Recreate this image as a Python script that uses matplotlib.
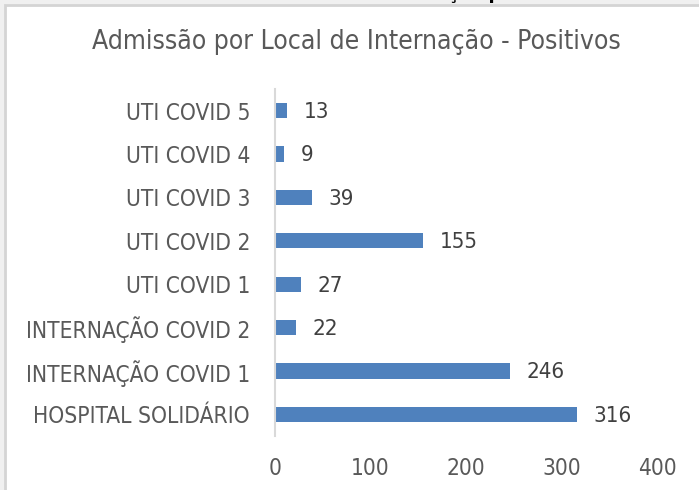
import matplotlib
matplotlib.use('Agg')
import matplotlib.pyplot as plt
from matplotlib.patches import Rectangle

# data
locais = ['HOSPITAL SOLIDÁRIO', 'INTERNAÇÃO COVID 1', 'INTERNAÇÃO COVID 2',
          'UTI COVID 1', 'UTI COVID 2', 'UTI COVID 3', 'UTI COVID 4', 'UTI COVID 5']
positivos = [316, 246, 22, 27, 155, 39, 9, 13]
xticks = [0, 100, 200, 300, 400]

plt.rcParams['font.family'] = ['DejaVu Sans']
plt.rcParams['font.stretch'] = 'condensed'

W, H = 699, 490
fig = plt.figure(figsize=(W / 100, H / 100), dpi=100)
fig.patch.set_facecolor('#F0F0F0')

# white chart frame
frame = Rectangle((5 / W, -0.1), 1.2, 1 - 5 / H + 0.1, transform=fig.transFigure,
                  facecolor='white', edgecolor='#D4D4D4', linewidth=2, zorder=-5)
fig.patches.append(frame)

# cut-off text from above the chart
fig.text(448 / W, 1 + 1.5 / H, 'ção p', fontsize=14, fontweight='bold', color='black',
         ha='left', va='baseline')

ax = fig.add_axes([275 / W, 1 - 436 / H, (657 - 275) / W, (436 - 89) / H])
ax.set_facecolor('none')

y = range(len(locais))
bars = ax.barh(y, positivos, height=0.35, color='#4F81BD')
for b, v in zip(bars, positivos):
    ax.annotate(str(v), (b.get_width(), b.get_y() + b.get_height() / 2),
                xytext=(12, -1), textcoords='offset points', va='center', ha='left',
                fontsize=16, color='#404040')

ax.set_xlim(0, 400)
ax.set_ylim(-0.5, len(locais) - 0.5)
ax.set_xticks(xticks)
ax.set_yticks(list(y))
ax.set_yticklabels(locais)
ax.tick_params(axis='y', length=0, pad=18, labelsize=16.3, labelcolor='#595959')
ax.tick_params(axis='x', length=0, pad=15, labelsize=16.3, labelcolor='#595959')
for s in ['top', 'right', 'bottom']:
    ax.spines[s].set_visible(False)
ax.spines['left'].set_color('#D9D9D9')
ax.spines['left'].set_linewidth(1.5)

fig.text(356 / W, 1 - 42 / H, 'Admissão por Local de Internação - Positivos',
         fontsize=19, color='#595959', ha='center', va='center')

fig.savefig('out.png', dpi=100, facecolor=fig.get_facecolor())
